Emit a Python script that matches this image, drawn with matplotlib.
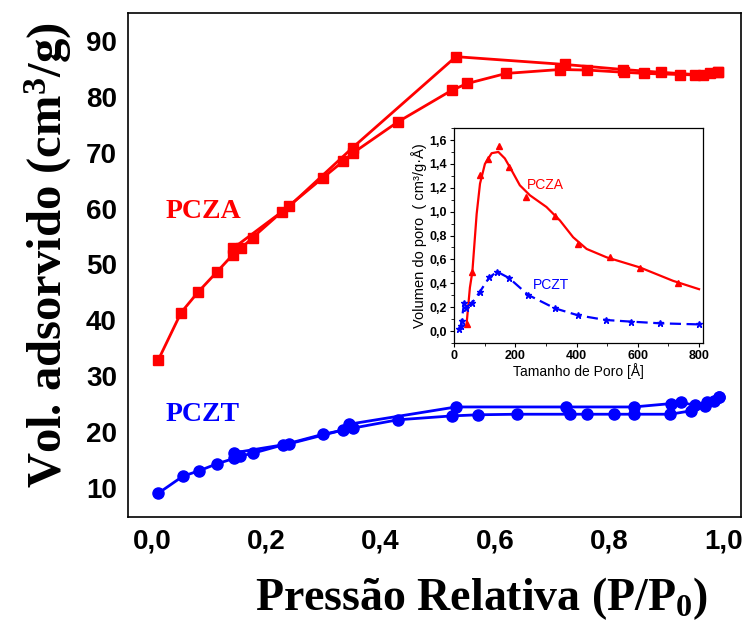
import numpy as np
from matplotlib import pyplot as plt
from matplotlib.ticker import MultipleLocator, FuncFormatter

# main isotherms (P/P0, cm3/g)
pcza_ads_x = [0.011, 0.051, 0.081, 0.113, 0.141, 0.156, 0.176, 0.227, 0.299, 0.335, 0.351,
              0.430, 0.525, 0.552, 0.620, 0.714, 0.762, 0.827, 0.862, 0.925, 0.964, 0.990]
pcza_ads_y = [32.9, 41.4, 45.1, 48.6, 51.7, 52.9, 54.8, 59.4, 65.5, 68.5, 69.9,
              75.5, 81.2, 82.4, 84.2, 84.9, 84.8, 84.4, 84.2, 84.0, 83.9, 84.5]
pcza_des_x = [0.990, 0.977, 0.951, 0.891, 0.825, 0.723, 0.532, 0.351, 0.240, 0.142]
pcza_des_y = [84.5, 84.2, 84.0, 84.4, 84.9, 85.8, 87.2, 70.9, 60.4, 52.9]

pczt_ads_x = [0.011, 0.054, 0.083, 0.113, 0.144, 0.154, 0.176, 0.229, 0.299, 0.351, 0.430,
              0.525, 0.571, 0.639, 0.732, 0.762, 0.809, 0.843, 0.907, 0.943, 0.968, 0.983, 0.992]
pczt_ads_y = [9.05, 12.1, 13.1, 14.3, 15.3, 15.7, 16.2, 17.7, 19.6, 20.7, 22.2,
              22.9, 23.1, 23.2, 23.2, 23.2, 23.2, 23.2, 23.2, 23.8, 24.7, 25.6, 26.2]
pczt_des_x = [0.992, 0.971, 0.951, 0.926, 0.908, 0.843, 0.725, 0.532, 0.344, 0.335, 0.240, 0.144]
pczt_des_y = [26.2, 25.3, 24.8, 25.3, 25.1, 24.5, 24.5, 24.5, 21.4, 20.4, 17.9, 16.3]

# inset: pore size distribution
za_curve_x = [41, 52, 60, 74, 85, 101, 123, 145, 166, 188, 215, 248, 302, 346, 389, 433, 498, 607, 715, 800]
za_curve_y = [0.056, 0.365, 0.497, 0.98, 1.235, 1.40, 1.49, 1.50, 1.446, 1.347, 1.221, 1.137,
              1.039, 0.926, 0.786, 0.688, 0.618, 0.533, 0.421, 0.351]
za_mark_x = [41, 60, 85, 112, 148, 179, 235, 329, 405, 509, 607, 732]
za_mark_y = [0.056, 0.497, 1.311, 1.44, 1.55, 1.375, 1.123, 0.96, 0.73, 0.623, 0.525, 0.401]

zt_x = [16, 22, 25, 33, 39, 60, 85, 115, 141, 180, 242, 329, 405, 495, 579, 674, 800]
zt_y = [0.014, 0.042, 0.084, 0.239, 0.196, 0.239, 0.331, 0.449, 0.497, 0.444, 0.303,
        0.191, 0.132, 0.093, 0.079, 0.065, 0.056]

red = "#ff0000"
blue = "#0000ff"

plt.rcParams["mathtext.fontset"] = "custom"
plt.rcParams["mathtext.rm"] = "Liberation Serif:bold"
plt.rcParams["mathtext.default"] = "rm"

comma = FuncFormatter(lambda v, p: ("%.1f" % v).replace(".", ","))

fig = plt.figure(figsize=(7.51, 6.23), dpi=100)
ax = fig.add_axes([0.1704, 0.1701, 0.8163, 0.8089])

ax.plot(pcza_ads_x, pcza_ads_y, color=red, lw=2, marker="s", ms=7)
ax.plot(pcza_des_x, pcza_des_y, color=red, lw=2, marker="s", ms=7)
ax.plot(pczt_ads_x, pczt_ads_y, color=blue, lw=2, marker="o", ms=8)
ax.plot(pczt_des_x, pczt_des_y, color=blue, lw=2, marker="o", ms=8)

ax.set_xlim(-0.042, 1.031)
ax.set_ylim(4.8, 95)
ax.set_xticks([0, 0.2, 0.4, 0.6, 0.8, 1.0])
ax.set_yticks(range(10, 100, 10))
ax.xaxis.set_major_formatter(comma)
ax.tick_params(length=0, labelsize=20, pad=8)
for lab in ax.get_xticklabels() + ax.get_yticklabels():
    lab.set_fontfamily("Liberation Sans")
    lab.set_fontweight("bold")
for s in ax.spines.values():
    s.set_linewidth(1.2)

ax.set_xlabel("Pressão Relativa (P/P$_0$)", family="Liberation Serif", weight="bold",
              fontsize=33)
ax.xaxis.set_label_coords(0.577, -0.115)
ax.set_ylabel("Vol. adsorvido (cm$^3$/g)", family="Liberation Serif", weight="bold",
              fontsize=35)
ax.yaxis.set_label_coords(-0.088, 0.52)

ax.text(0.023, 59.4, "PCZA", color=red, family="Liberation Serif", weight="bold",
        fontsize=20, va="center")
ax.text(0.023, 23.1, "PCZT", color=blue, family="Liberation Serif", weight="bold",
        fontsize=20, va="center")

# inset
ins = fig.add_axes([0.6045, 0.4494, 0.3316, 0.345])
ins.plot(za_curve_x, za_curve_y, color=red, lw=1.6)
ins.plot(za_mark_x, za_mark_y, ls="none", color=red, marker="^", ms=4)
ins.plot(zt_x, zt_y, color=blue, lw=1.6, ls=(0, (5, 2.5)), marker="*", ms=4.5)
ins.set_xlim(0, 813)
ins.set_ylim(-0.1, 1.7)
ins.set_xticks([0, 200, 400, 600, 800])
ins.xaxis.set_minor_locator(MultipleLocator(100))
ins.set_yticks(np.arange(0, 1.61, 0.2))
ins.yaxis.set_minor_locator(MultipleLocator(0.1))
ins.yaxis.set_major_formatter(comma)
ins.tick_params(which="both", direction="out", labelsize=9, pad=2, top=False, right=False)
ins.tick_params(which="major", length=3)
ins.tick_params(which="minor", length=2)
for lab in ins.get_xticklabels() + ins.get_yticklabels():
    lab.set_fontfamily("Liberation Sans")
    lab.set_fontweight("bold")
for s in ins.spines.values():
    s.set_linewidth(0.9)
ins.set_xlabel("Tamanho de Poro [Å]", family="Liberation Sans", fontsize=10, labelpad=1)
ins.set_ylabel("Volumen do poro  ( cm³/g·Å)", family="Liberation Sans", fontsize=10.5, labelpad=2)
ins.text(237, 1.22, "PCZA", color=red, family="Liberation Sans", fontsize=10, va="center")
ins.text(259, 0.39, "PCZT", color=blue, family="Liberation Sans", fontsize=10, va="center")

fig.savefig("out.png", dpi=100)
